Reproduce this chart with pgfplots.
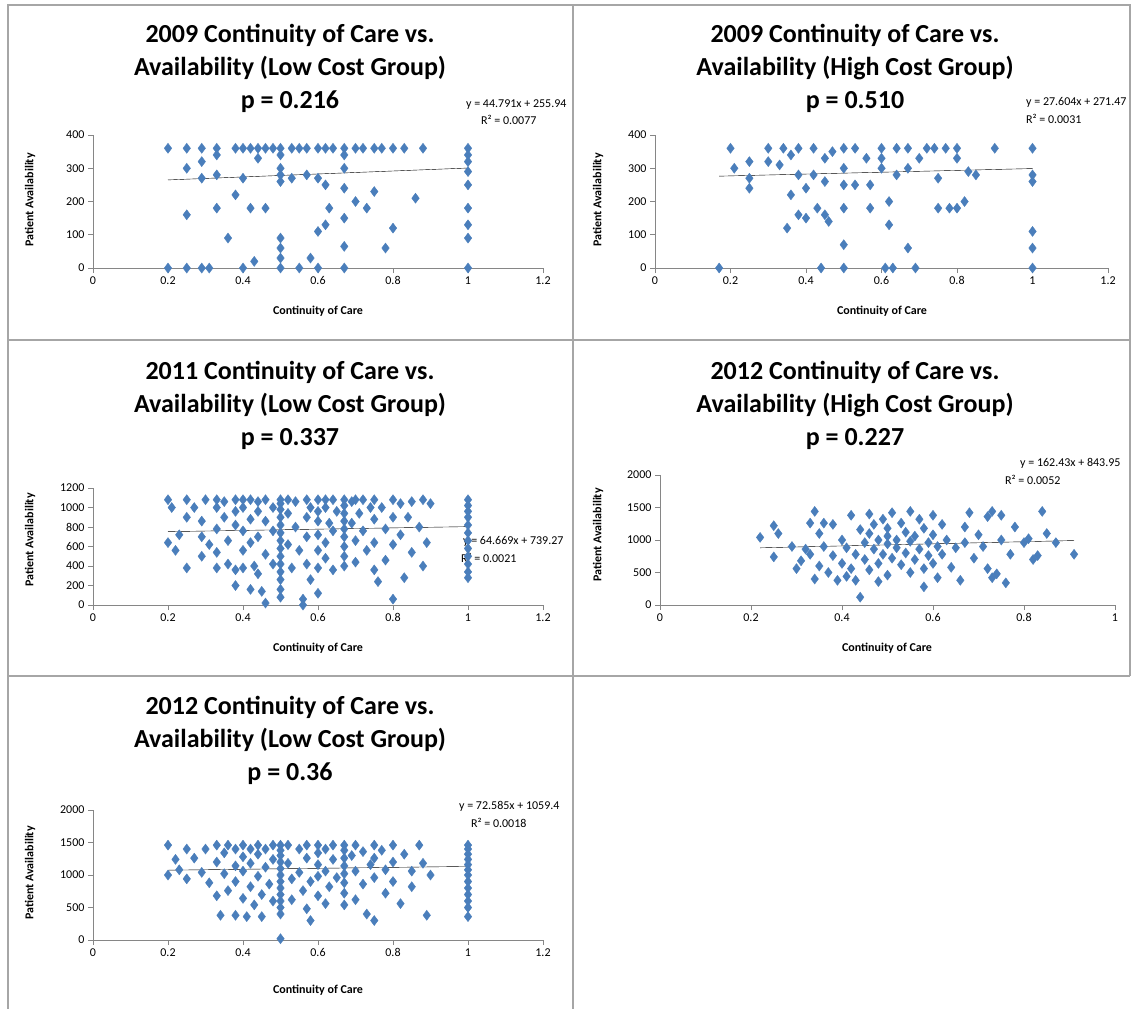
\documentclass[border=0pt]{standalone}
\usepackage{pgfplots}
\pgfplotsset{compat=1.18}
\usepackage{fontspec}
\setmainfont{Carlito}
\definecolor{mk}{RGB}{74,126,187}
\definecolor{ax}{RGB}{134,134,134}
\pgfplotsset{panel/.style={scale only axis,anchor=south west,axis lines=left,
 axis line style={-,ax,line width=1pt},
 tick style={ax,line width=1pt},tick align=outside,major tick length=5pt,
 ticklabel style={font=\fontsize{12}{14}\selectfont},
 /pgf/number format/assume math mode=true,/pgf/number format/1000 sep={},
 scaled ticks=false, clip=false},
 pts/.style={mk,only marks,mark=diamond*,mark size=5,mark options={draw=mk,fill=mk}},
 tl/.style={no marks,black,thin,solid}}
\newcommand\ttl[3]{\node[align=center,font=\fontsize{26}{33}\selectfont\bfseries] at (#1pt,#2pt) {#3};}
\begin{document}
\begin{tikzpicture}
\useasboundingbox (0,0) rectangle (1132pt,-1009pt);
\draw[gray!70,line width=1.5] (8pt,-5pt) rectangle (1130pt,-340pt);
\draw[gray!70,line width=1.5] (573pt,-5pt) -- (573pt,-1009pt);
\draw[gray!70,line width=1.5] (8pt,-340pt) -- (8pt,-1009pt);
\draw[gray!70,line width=1.5] (8pt,-676pt) -- (1130pt,-676pt) (1130pt,-340pt)--(1130pt,-676pt);
\ttl{290}{-68}{2009 Continuity of Care vs.\\Availability (Low Cost Group)\\p = 0.216}
\ttl{855}{-68}{2009 Continuity of Care vs.\\Availability (High Cost Group)\\p = 0.510}
\ttl{290}{-405}{2011 Continuity of Care vs.\\Availability (Low Cost Group)\\p = 0.337}
\ttl{855}{-405}{2012 Continuity of Care vs.\\Availability (High Cost Group)\\p = 0.227}
\ttl{290}{-740}{2012 Continuity of Care vs.\\Availability (Low Cost Group)\\p = 0.36}
\tikzset{xl/.style={font=\fontsize{12}{14}\selectfont\bfseries},yl/.style={font=\fontsize{12}{14}\selectfont\bfseries,rotate=90},eq/.style={font=\fontsize{12}{14}\selectfont,anchor=east,align=right}}
\node[xl] at (318pt,-311pt) {Continuity of Care};
\node[xl] at (882pt,-311pt) {Continuity of Care};
\node[xl] at (318pt,-648pt) {Continuity of Care};
\node[xl] at (887pt,-648pt) {Continuity of Care};
\node[xl] at (318pt,-990pt) {Continuity of Care};
\node[yl] at (30pt,-200pt) {Patient Availability};
\node[yl] at (598pt,-200pt) {Patient Availability};
\node[yl] at (30pt,-540pt) {Patient Availability};
\node[yl] at (598pt,-535pt) {Patient Availability};
\node[yl] at (30pt,-873pt) {Patient Availability};
\node[eq] at (570pt,-105pt) {y = 44.791x + 255.94};
\node[eq] at (540pt,-120pt) {R² = 0.0077};
\node[eq] at (1130pt,-102pt) {y = 27.604x + 271.47};
\node[eq] at (1085pt,-119pt) {R² = 0.0031};
\node[eq] at (567pt,-541pt) {y = 64.669x + 739.27};
\node[eq] at (520pt,-558pt) {R² = 0.0021};
\node[eq] at (1124pt,-463pt) {y = 162.43x + 843.95};
\node[eq] at (1064pt,-480pt) {R² = 0.0052};
\node[eq] at (563pt,-806pt) {y = 72.585x + 1059.4};
\node[eq] at (530pt,-823pt) {R² = 0.0018};

\begin{axis}[panel,at={(93pt,-268pt)},width=450pt,height=133pt,xmin=0,xmax=1.2,ymin=0,ymax=400,xtick={0,0.2,...,1.2},ytick={0,100,...,400}]
\addplot[pts] coordinates {(0.2,360)(0.2,0)(0.25,360)(0.25,300)(0.25,160)(0.25,0)(0.29,360)(0.29,320)(0.29,270)(0.29,0)(0.31,0)(0.33,360)(0.33,340)(0.33,280)(0.33,180)(0.36,90)(0.38,360)(0.38,220)(0.4,360)(0.4,270)(0.4,0)(0.42,360)(0.42,180)(0.43,20)(0.44,360)(0.44,330)(0.46,360)(0.46,180)(0.48,360)(0.5,360)(0.5,340)(0.5,300)(0.5,280)(0.5,260)(0.5,90)(0.5,60)(0.5,30)(0.5,0)(0.53,360)(0.53,270)(0.55,360)(0.55,0)(0.57,360)(0.57,280)(0.58,30)(0.6,360)(0.6,270)(0.6,0)(0.6,110)(0.62,360)(0.62,250)(0.62,130)(0.63,180)(0.64,360)(0.67,360)(0.67,340)(0.67,300)(0.67,240)(0.67,150)(0.67,65)(0.67,0)(0.7,360)(0.7,200)(0.72,360)(0.73,180)(0.75,360)(0.75,230)(0.77,360)(0.78,60)(0.8,360)(0.8,120)(0.83,360)(0.86,210)(0.88,360)(1,360)(1,340)(1,320)(1,290)(1,250)(1,180)(1,130)(1,90)(1,0)};
\addplot[tl] coordinates {(0.2,264.9)(1,300.7)};
\end{axis}

\begin{axis}[panel,at={(655pt,-268pt)},width=453pt,height=133pt,xmin=0,xmax=1.2,ymin=0,ymax=400,xtick={0,0.2,...,1.2},ytick={0,100,...,400}]
\addplot[pts] coordinates {(0.17,0)(0.2,360)(0.21,300)(0.25,320)(0.25,270)(0.25,240)(0.3,360)(0.3,320)(0.33,310)(0.34,360)(0.35,120)(0.36,220)(0.36,340)(0.38,280)(0.38,360)(0.38,160)(0.4,240)(0.4,150)(0.42,360)(0.42,280)(0.43,180)(0.44,0)(0.45,330)(0.45,260)(0.45,160)(0.46,140)(0.47,350)(0.5,360)(0.5,300)(0.5,250)(0.5,180)(0.5,70)(0.5,0)(0.53,360)(0.53,250)(0.56,330)(0.57,250)(0.57,180)(0.6,360)(0.6,330)(0.6,300)(0.61,0)(0.62,200)(0.62,130)(0.63,0)(0.64,360)(0.64,280)(0.67,300)(0.67,360)(0.67,60)(0.69,0)(0.7,330)(0.72,360)(0.74,360)(0.75,270)(0.75,180)(0.77,360)(0.78,180)(0.8,360)(0.8,330)(0.8,180)(0.82,200)(0.83,290)(0.85,280)(0.9,360)(1,360)(1,280)(1,260)(1,110)(1,60)(1,0)};
\addplot[tl] coordinates {(0.17,276.2)(1,299.1)};
\end{axis}

\begin{axis}[panel,at={(93pt,-605pt)},width=450pt,height=117pt,xmin=0,xmax=1.2,ymin=0,ymax=1200,xtick={0,0.2,...,1.2},ytick={0,200,...,1200}]
\addplot[pts] coordinates {(0.2,1080)(0.2,640)(0.21,1000)(0.22,560)(0.23,720)(0.25,1080)(0.25,900)(0.25,380)(0.27,1000)(0.29,860)(0.29,500)(0.29,700)(0.3,1080)(0.31,620)(0.33,1080)(0.33,1000)(0.33,780)(0.33,540)(0.33,380)(0.35,1060)(0.35,900)(0.36,660)(0.36,420)(0.38,1080)(0.38,960)(0.38,820)(0.38,360)(0.38,200)(0.4,1080)(0.4,1000)(0.4,760)(0.4,560)(0.4,380)(0.42,1080)(0.42,880)(0.42,640)(0.42,160)(0.43,400)(0.44,1060)(0.44,960)(0.44,700)(0.44,320)(0.45,140)(0.46,1080)(0.46,860)(0.46,520)(0.46,20)(0.48,1000)(0.48,760)(0.48,420)(0.5,1080)(0.5,1040)(0.5,980)(0.5,900)(0.5,820)(0.5,740)(0.5,660)(0.5,580)(0.5,500)(0.5,420)(0.5,340)(0.5,260)(0.5,160)(0.5,80)(0.52,1080)(0.52,940)(0.52,620)(0.53,380)(0.54,1060)(0.54,800)(0.55,560)(0.56,0)(0.56,60)(0.57,1080)(0.57,900)(0.57,700)(0.57,420)(0.58,1000)(0.58,260)(0.6,1080)(0.6,960)(0.6,860)(0.6,720)(0.6,560)(0.6,380)(0.6,120)(0.62,1080)(0.62,1000)(0.62,640)(0.62,480)(0.63,840)(0.64,1080)(0.64,760)(0.64,360)(0.65,960)(0.67,1080)(0.67,1020)(0.67,940)(0.67,860)(0.67,780)(0.67,700)(0.67,600)(0.67,500)(0.67,400)(0.69,1060)(0.69,840)(0.7,1080)(0.7,660)(0.7,440)(0.71,940)(0.72,1080)(0.72,760)(0.73,560)(0.74,1000)(0.75,1080)(0.75,880)(0.75,640)(0.75,360)(0.76,240)(0.77,1000)(0.78,780)(0.78,460)(0.8,1080)(0.8,900)(0.8,620)(0.8,60)(0.82,1040)(0.82,720)(0.83,280)(0.84,900)(0.85,1060)(0.85,540)(0.87,800)(0.88,1080)(0.88,400)(0.89,640)(0.9,1040)(1,1080)(1,1020)(1,960)(1,900)(1,820)(1,740)(1,660)(1,580)(1,500)(1,420)(1,340)(1,280)};
\addplot[tl] coordinates {(0.2,752.2)(1,803.9)};
\end{axis}

\begin{axis}[panel,at={(660pt,-605pt)},width=455pt,height=130pt,xmin=0,xmax=1,ymin=0,ymax=2000,xtick={0,0.2,...,1},ytick={0,500,...,2000}]
\addplot[pts] coordinates {(0.22,1040)(0.25,1220)(0.25,740)(0.26,1100)(0.29,900)(0.3,560)(0.31,680)(0.32,860)(0.33,1260)(0.33,780)(0.34,1440)(0.34,400)(0.35,1100)(0.35,600)(0.36,1260)(0.36,900)(0.37,500)(0.38,1240)(0.38,760)(0.39,380)(0.4,1000)(0.4,640)(0.41,880)(0.41,440)(0.42,1380)(0.42,560)(0.43,780)(0.43,380)(0.44,1160)(0.44,120)(0.45,960)(0.45,700)(0.46,1400)(0.46,1100)(0.46,540)(0.47,860)(0.47,1240)(0.48,1000)(0.48,640)(0.48,360)(0.49,1320)(0.49,780)(0.5,1180)(0.5,940)(0.5,1060)(0.5,460)(0.51,1420)(0.51,720)(0.52,1000)(0.52,880)(0.53,1260)(0.53,620)(0.54,1120)(0.54,800)(0.55,1440)(0.55,980)(0.55,500)(0.56,1060)(0.56,700)(0.57,1320)(0.57,860)(0.58,1180)(0.58,560)(0.58,280)(0.59,960)(0.59,760)(0.6,1380)(0.6,1080)(0.6,640)(0.61,900)(0.61,420)(0.62,1240)(0.62,780)(0.63,1000)(0.64,580)(0.65,880)(0.66,380)(0.67,1200)(0.67,960)(0.68,1420)(0.69,720)(0.7,1080)(0.71,900)(0.72,1360)(0.72,560)(0.73,1440)(0.73,420)(0.74,480)(0.75,1380)(0.75,1000)(0.76,340)(0.77,780)(0.78,1200)(0.8,960)(0.81,1020)(0.82,700)(0.83,760)(0.84,1440)(0.85,1100)(0.87,960)(0.91,780)};
\addplot[tl] coordinates {(0.22,879.7)(0.91,991.8)};
\end{axis}

\begin{axis}[panel,at={(93pt,-940pt)},width=450pt,height=130pt,xmin=0,xmax=1.2,ymin=0,ymax=2000,xtick={0,0.2,...,1.2},ytick={0,500,...,2000}]
\addplot[pts] coordinates {(0.2,1460)(0.2,1000)(0.22,1240)(0.23,1080)(0.25,1400)(0.25,940)(0.27,1260)(0.29,1040)(0.3,1400)(0.31,880)(0.33,1460)(0.33,1200)(0.33,680)(0.34,380)(0.35,1340)(0.35,1020)(0.36,1460)(0.36,760)(0.38,1400)(0.38,1140)(0.38,900)(0.38,380)(0.4,1460)(0.4,1280)(0.4,1060)(0.4,640)(0.41,360)(0.42,1400)(0.42,1180)(0.42,820)(0.43,540)(0.44,1460)(0.44,1320)(0.44,980)(0.45,700)(0.45,360)(0.46,1400)(0.46,1120)(0.47,860)(0.48,1460)(0.48,1240)(0.48,600)(0.5,1460)(0.5,1380)(0.5,1300)(0.5,1200)(0.5,1100)(0.5,1000)(0.5,900)(0.5,800)(0.5,700)(0.5,600)(0.5,500)(0.5,400)(0.5,20)(0.52,1460)(0.52,1180)(0.53,940)(0.53,620)(0.55,1400)(0.55,1040)(0.56,760)(0.57,1460)(0.57,1260)(0.57,480)(0.58,900)(0.58,300)(0.6,1460)(0.6,1340)(0.6,1160)(0.6,980)(0.6,680)(0.62,1400)(0.62,1060)(0.62,560)(0.63,820)(0.64,1460)(0.64,1240)(0.65,960)(0.67,1460)(0.67,1380)(0.67,1260)(0.67,1140)(0.67,1020)(0.67,880)(0.67,720)(0.67,540)(0.69,1300)(0.7,1460)(0.7,1060)(0.7,620)(0.72,1360)(0.72,860)(0.73,400)(0.74,1160)(0.75,1460)(0.75,1260)(0.75,960)(0.75,300)(0.77,1380)(0.78,1080)(0.78,720)(0.8,1460)(0.8,1200)(0.8,900)(0.82,560)(0.83,1320)(0.85,1060)(0.85,820)(0.87,1460)(0.88,1180)(0.89,380)(0.9,1000)(1,1460)(1,1400)(1,1320)(1,1240)(1,1160)(1,1080)(1,1000)(1,900)(1,800)(1,700)(1,600)(1,500)(1,360)};
\addplot[tl] coordinates {(0.2,1073.9)(1,1132)};
\end{axis}
\end{tikzpicture}
\end{document}
